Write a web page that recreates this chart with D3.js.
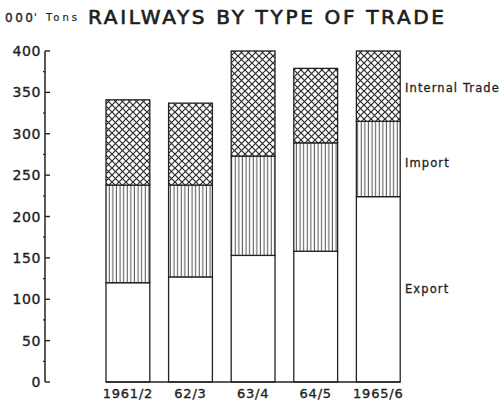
<!DOCTYPE html>
<html>
<head>
<meta charset="utf-8">
<script src="https://cdn.jsdelivr.net/npm/d3@7"></script>
<style>
  body { margin: 0; background: #fff; }
  text { font-family: "DejaVu Sans", sans-serif; fill: #1e1e1e; stroke: #1e1e1e; stroke-width: 0.35px; }
</style>
</head>
<body>
<svg id="chart" width="502" height="403"></svg>
<script>
// data (000' tons)
var categories =   ['1961/2', '62/3', '63/4', '64/5', '1965/6']
var exportVals =   [120, 127, 153, 158, 224]
var importVals =   [118, 111, 120, 131, 91]
var internalVals = [103, 99, 127, 90, 85]
var seriesNames =  ['Export', 'Import', 'Internal Trade']
var yTicks =       [0, 50, 100, 150, 200, 250, 300, 350, 400]

var ink = '#222'

var svg = d3.select('#chart')
var defs = svg.append('defs')

// vertical rule hatch for imports
var vp = defs.append('pattern')
    .attr('id', 'vlines')
    .attr('patternUnits', 'userSpaceOnUse')
    .attr('width', 3.6).attr('height', 10)
vp.append('rect').attr('width', 3.6).attr('height', 10).attr('fill', '#fff')
vp.append('line')
    .attr('x1', 1.2).attr('x2', 1.2).attr('y1', 0).attr('y2', 10)
    .attr('stroke', '#333').attr('stroke-width', 0.9)

// cross hatch for internal trade
var cp = defs.append('pattern')
    .attr('id', 'xhatch')
    .attr('patternUnits', 'userSpaceOnUse')
    .attr('width', 7).attr('height', 7)
cp.append('rect').attr('width', 7).attr('height', 7).attr('fill', '#fff')
cp.append('path')
    .attr('d', 'M-1,-1 L8,8 M8,-1 L-1,8')
    .attr('stroke', '#2a2a2a').attr('stroke-width', 1.2)

var fills = ['#fff', 'url(#vlines)', 'url(#xhatch)']

var rows = categories.map(function(c, i) {
    return { cat: c, Export: exportVals[i], Import: importVals[i], 'Internal Trade': internalVals[i] }
})
var stacked = d3.stack().keys(seriesNames)(rows)

var x = d3.scaleBand()
    .domain(categories)
    .range([96.6, 409.6])
    .paddingInner(0.3)
    .paddingOuter(0.15)

var y = d3.scaleLinear()
    .domain([0, 400])
    .range([382, 51])

// title
svg.append('text')
    .attr('x', 5).attr('y', 22)
    .attr('textLength', 28).attr('lengthAdjust', 'spacing')
    .style('font-size', '12px')
    .text('000')
svg.append('text')
    .attr('x', 34).attr('y', 21)
    .attr('textLength', 43).attr('lengthAdjust', 'spacing')
    .style('font-size', '10px')
    .style('stroke-width', '0.2px')
    .text("' Tons")
svg.append('text')
    .attr('x', 88).attr('y', 24)
    .attr('textLength', 356).attr('lengthAdjust', 'spacing')
    .style('font-size', '20px')
    .style('stroke-width', '0.7px')
    .text('RAILWAYS BY TYPE OF TRADE')

// y axis
var axisG = svg.append('g').attr('transform', 'translate(45,0)')
axisG.append('line')
    .attr('x1', 0).attr('x2', 0)
    .attr('y1', y(400)).attr('y2', y(0))
    .attr('stroke', ink).attr('stroke-width', 1.5)
axisG.selectAll('.major').data(yTicks).enter().append('line')
    .attr('x1', 0).attr('x2', 5)
    .attr('y1', function(d) { return y(d) }).attr('y2', function(d) { return y(d) })
    .attr('stroke', ink).attr('stroke-width', 1.4)
axisG.selectAll('.minor').data(yTicks.slice(1).map(function(d) { return d - 25 })).enter().append('line')
    .attr('x1', -2).attr('x2', 0)
    .attr('y1', function(d) { return y(d) }).attr('y2', function(d) { return y(d) })
    .attr('stroke', ink).attr('stroke-width', 1.2)
axisG.selectAll('.lbl').data(yTicks).enter().append('text')
    .attr('x', -4)
    .attr('y', function(d) { return y(d) })
    .attr('dy', '0.36em')
    .attr('text-anchor', 'end')
    .style('font-size', '14px')
    .style('letter-spacing', '0.6px')
    .text(function(d) { return d })

// bars
var layers = svg.append('g').selectAll('g').data(stacked).enter().append('g')
    .attr('fill', function(d, i) { return fills[i] })
layers.selectAll('rect').data(function(d) { return d }).enter().append('rect')
    .attr('x', function(d) { return x(d.data.cat) })
    .attr('width', x.bandwidth())
    .attr('y', function(d) { return y(d[1]) })
    .attr('height', function(d) { return y(d[0]) - y(d[1]) })
    .attr('stroke', ink)
    .attr('stroke-width', 1.3)

// baseline under the bars
svg.append('line')
    .attr('x1', x(categories[0])).attr('x2', x(categories[4]) + x.bandwidth())
    .attr('y1', y(0)).attr('y2', y(0))
    .attr('stroke', ink).attr('stroke-width', 1.6)

// category labels
svg.selectAll('.cat').data(categories).enter().append('text')
    .attr('x', function(d) { return x(d) + x.bandwidth() / 2 })
    .attr('y', 398)
    .attr('text-anchor', 'middle')
    .style('font-size', '13px')
    .style('letter-spacing', '0.8px')
    .text(function(d) { return d })

// series names beside the last bar
var last = stacked.map(function(s) { return s[s.length - 1] })
svg.selectAll('.ser').data(last).enter().append('text')
    .attr('x', 405)
    .attr('y', function(d, i) { return y((d[0] + d[1]) / 2) + [0, 4, 2][i] })
    .attr('dy', '0.36em')
    .style('font-size', '11.5px')
    .style('letter-spacing', '1.1px')
    .style('stroke-width', '0.3px')
    .text(function(d, i) { return seriesNames[i] })
</script>
</body>
</html>
